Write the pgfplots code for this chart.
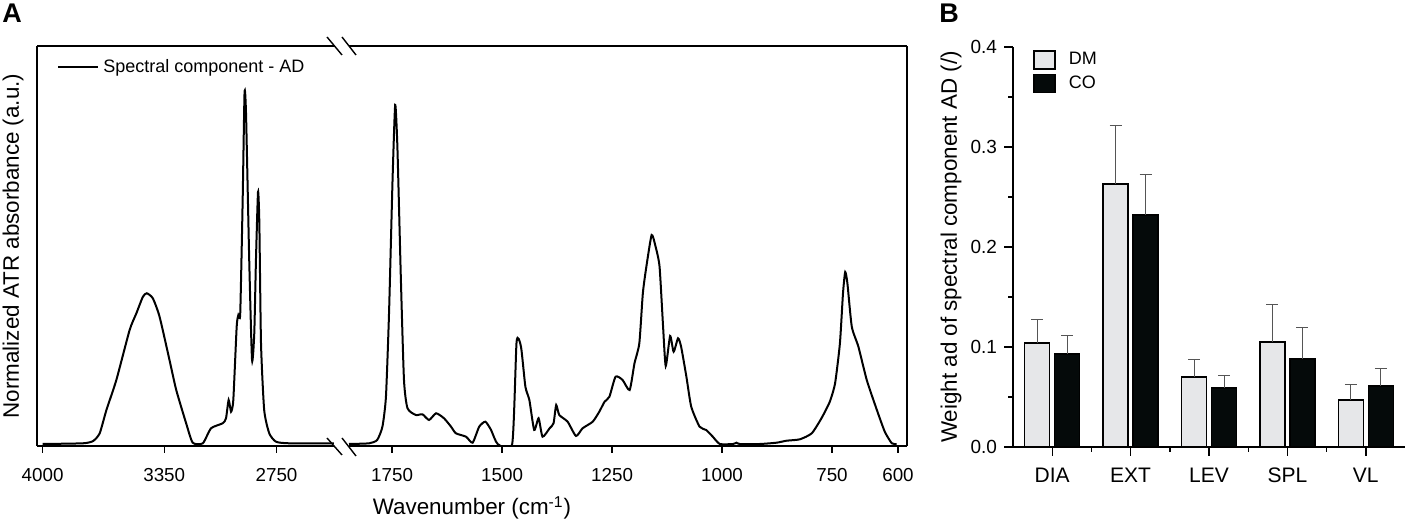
\documentclass[border=0pt]{standalone}
\usepackage{fontspec}
\setmainfont{Liberation Sans}
\usepackage{pgfplots}
\pgfplotsset{compat=1.18}
\definecolor{dmgray}{RGB}{230,231,233}
\definecolor{cobl}{RGB}{5,10,10}
\definecolor{errc}{RGB}{85,85,85}
\pgfplotsset{
  panelA/.style={
    anchor=south west, scale only axis, height=200pt,
    ymin=-2, ymax=398, x dir=reverse,
    axis x line=box,
    xtick pos=left, ytick=\empty,
    tick align=outside, major tick length=3.5pt,
    every tick/.style={black, line width=0.7pt},
    axis line style={line width=0.7pt},
    /pgf/number format/assume math mode=true,
    ticklabel style={font=\fontsize{9.4}{11}\selectfont},
    xticklabel style={yshift=-4pt},
    clip=true,
  },
  noarrows/.style={x axis line style={-}, y axis line style={-},
    every outer y axis line/.append style={-}, every inner y axis line/.append style={-},
    every outer x axis line/.append style={-}},
  barleg/.style={legend image code/.code={\draw[##1, line width=0.7pt] (0pt,-4.5pt) rectangle (10.5pt,4.5pt); \path (15pt,0pt);}},
  errstyle/.style={error bars/.cd, y dir=plus, y explicit,
    error bar style={line width=0.5pt, errc},
    error mark options={rotate=90, mark size=3pt, line width=0.5pt, errc}},
}
\begin{document}
\begin{tikzpicture}
\path[use as bounding box] (0,0) rectangle (703.5pt,261.5pt);
% ---------- Panel A, left segment ----------
\begin{axis}[panelA,
  at={(18.5pt,38.5pt)}, width=148.5pt,
  xmin=2443, xmax=4030, axis y line=left, noarrows,
  xtick={4000,3350,2750}, xticklabels={4000,3350,2750},
  ylabel={Normalized ATR absorbance (a.u.)},
  ylabel style={at={(rel axis cs:-0.0808,0.5)}, anchor=center, font=\fontsize{11.2}{13}\selectfont},
  legend style={draw=none, fill=none, at={(rel axis cs:0.0673,0.9475)}, anchor=west, inner sep=0pt, font=\fontsize{9}{11}\selectfont},
  legend image code/.code={\draw[#1] (0pt,0pt) -- (20pt,0pt);},
]
\addplot[black, line width=1pt, smooth, tension=0.35] coordinates {
(4000,0) (3784,0.7) (3730,3) (3695,10.7) (3659,34) (3606,64) (3535,114) (3499,130.7)
(3464,147.3) (3443,150.7) (3411,145.7) (3375,127.3) (3322,84) (3286,54) (3233,20.7)
(3198,1.3) (3144,0.7) (3100,15.7) (3038,20.7) (3020,25.7) (3006,44) (2993,32.3)
(2981,44) (2963,117.3) (2954,129) (2944,130.7) (2931,244) (2921,351) (2913,330)
(2896,184) (2881,84) (2869,110.7) (2860,184) (2849,252) (2842,222) (2833,100.7)
(2816,34) (2789,10.7) (2753,2.3) (2682,0.7) (2400,0.5)
};
\addlegendentry{Spectral component - AD}
\end{axis}
% ---------- Panel A, right segment ----------
\begin{axis}[panelA,
  at={(174.5pt,38.5pt)}, width=279pt,
  xmin=579.5, xmax=1848, axis y line=right, noarrows,
  xtick={1750,1500,1250,1000,750,600}, xticklabels={1750,1500,1250,1000,750,600},
  xlabel={Wavenumber (cm\textsuperscript{-1})},
  xlabel style={at={(rel axis cs:0.2204,-0.1725)}, anchor=base, font=\fontsize{11.2}{13}\selectfont},
]
\addplot[black, line width=1pt, smooth, tension=0.35] coordinates {
(1848,0) (1802,0.7) (1784,4) (1772,17.3) (1764,47.3) (1757,130.7) (1749,264) (1743,339)
(1738,297.3) (1730,164) (1723,64) (1715,35.7) (1696,29) (1681,29.7) (1666,24) (1650,30.7)
(1632,25.7) (1616,17.3) (1605,10.7) (1582,7.3) (1567,1.3) (1552,17.3) (1538,22.3) (1525,14)
(1510,0) (1477,0) (1467,102.3) (1457,97.3) (1447,57.3) (1438,44) (1427,14) (1417,25.7)
(1408,7.3) (1392,15.7) (1383,20.7) (1377,39) (1370,29) (1351,22.3) (1332,8) (1317,15.7)
(1294,22.3) (1279,32.3) (1267,42.3) (1256,47.3) (1242,67.3) (1226,64) (1210,54) (1199,80.7)
(1188,100.7) (1180,150.7) (1172,177.3) (1160,209) (1151,197.3) (1142,177.3) (1134,117.3)
(1128,78) (1118,108) (1110,92.3) (1100,105.7) (1093,97.3) (1081,67.3) (1070,37.3) (1051,17.3)
(1036,14) (1021,7.3) (1005,0) (975,0) (967,1.3) (960,0) (914,0) (876,1.3) (853,3.3) (823,4.7)
(796,10.7) (774,25.7) (755,42.3) (743,60.7) (732,100.7) (725,150.7) (720,172) (715,160.7)
(705,117.3) (690,97.3) (671,64) (648,34) (630,12.3) (614,0.7) (603,0)
};
\end{axis}
% break marks
\draw[line width=0.7pt] (163.5pt,243pt) -- (171pt,234pt);
\draw[line width=0.7pt] (171pt,243pt) -- (178pt,234pt);
\draw[line width=0.7pt] (163.5pt,42.5pt) -- (171pt,34pt);
\draw[line width=0.7pt] (171pt,42.5pt) -- (178pt,33.5pt);
% ---------- Panel B ----------
\begin{axis}[
  at={(506.5pt,38pt)}, anchor=south west, scale only axis, width=196pt, height=200pt,
  xmin=0.5, xmax=5.5, ymin=0, ymax=0.4,
  axis lines=left, axis line style={-, line width=0.7pt}, noarrows,
  xtick={1,2,3,4,5}, xticklabels={DIA,EXT,LEV,SPL,VL},
  minor xtick={1.5,2.5,3.5,4.5},
  ytick={0,0.1,0.2,0.3,0.4}, minor ytick={0.05,0.15,0.25,0.35},
  yticklabel style={font=\fontsize{9.5}{11}\selectfont, /pgf/number format/.cd, fixed, fixed zerofill, precision=1, assume math mode=true},
  xticklabel style={font=\fontsize{10.5}{12}\selectfont, yshift=-2.5pt},
  tick align=outside, major tick length=4.5pt, minor tick length=2.5pt,
  every tick/.style={black, line width=0.7pt},
  ylabel={Weight ad of spectral component AD (/)},
  ylabel style={at={(rel axis cs:-0.158,0.5)}, anchor=center, font=\fontsize{11.2}{13}\selectfont},
  ybar, bar width=12.5pt,
  legend style={draw=none, fill=none, at={(rel axis cs:0.051,0.9975)}, anchor=north west, inner sep=0pt,
    font=\fontsize{9}{11}\selectfont, row sep=0pt},
  legend cell align=left,
]
\addplot[fill=dmgray, draw=black, line width=0.7pt, bar shift=-7.5pt, barleg, errstyle]
coordinates {(1,0.104) +- (0,0.023) (2,0.263) +- (0,0.058) (3,0.070) +- (0,0.017) (4,0.105) +- (0,0.037) (5,0.047) +- (0,0.015)};
\addlegendentry{DM}
\addplot[fill=cobl, draw=black, line width=0.7pt, bar shift=7.5pt, barleg, errstyle]
coordinates {(1,0.093) +- (0,0.018) (2,0.232) +- (0,0.040) (3,0.059) +- (0,0.012) (4,0.088) +- (0,0.031) (5,0.061) +- (0,0.017)};
\addlegendentry{CO}
\end{axis}
% panel letters
\node[font=\fontsize{13.5}{15}\selectfont\bfseries] at (6pt,255pt) {A};
\node[font=\fontsize{13.5}{15}\selectfont\bfseries] at (474.5pt,255pt) {B};
\end{tikzpicture}
\end{document}
